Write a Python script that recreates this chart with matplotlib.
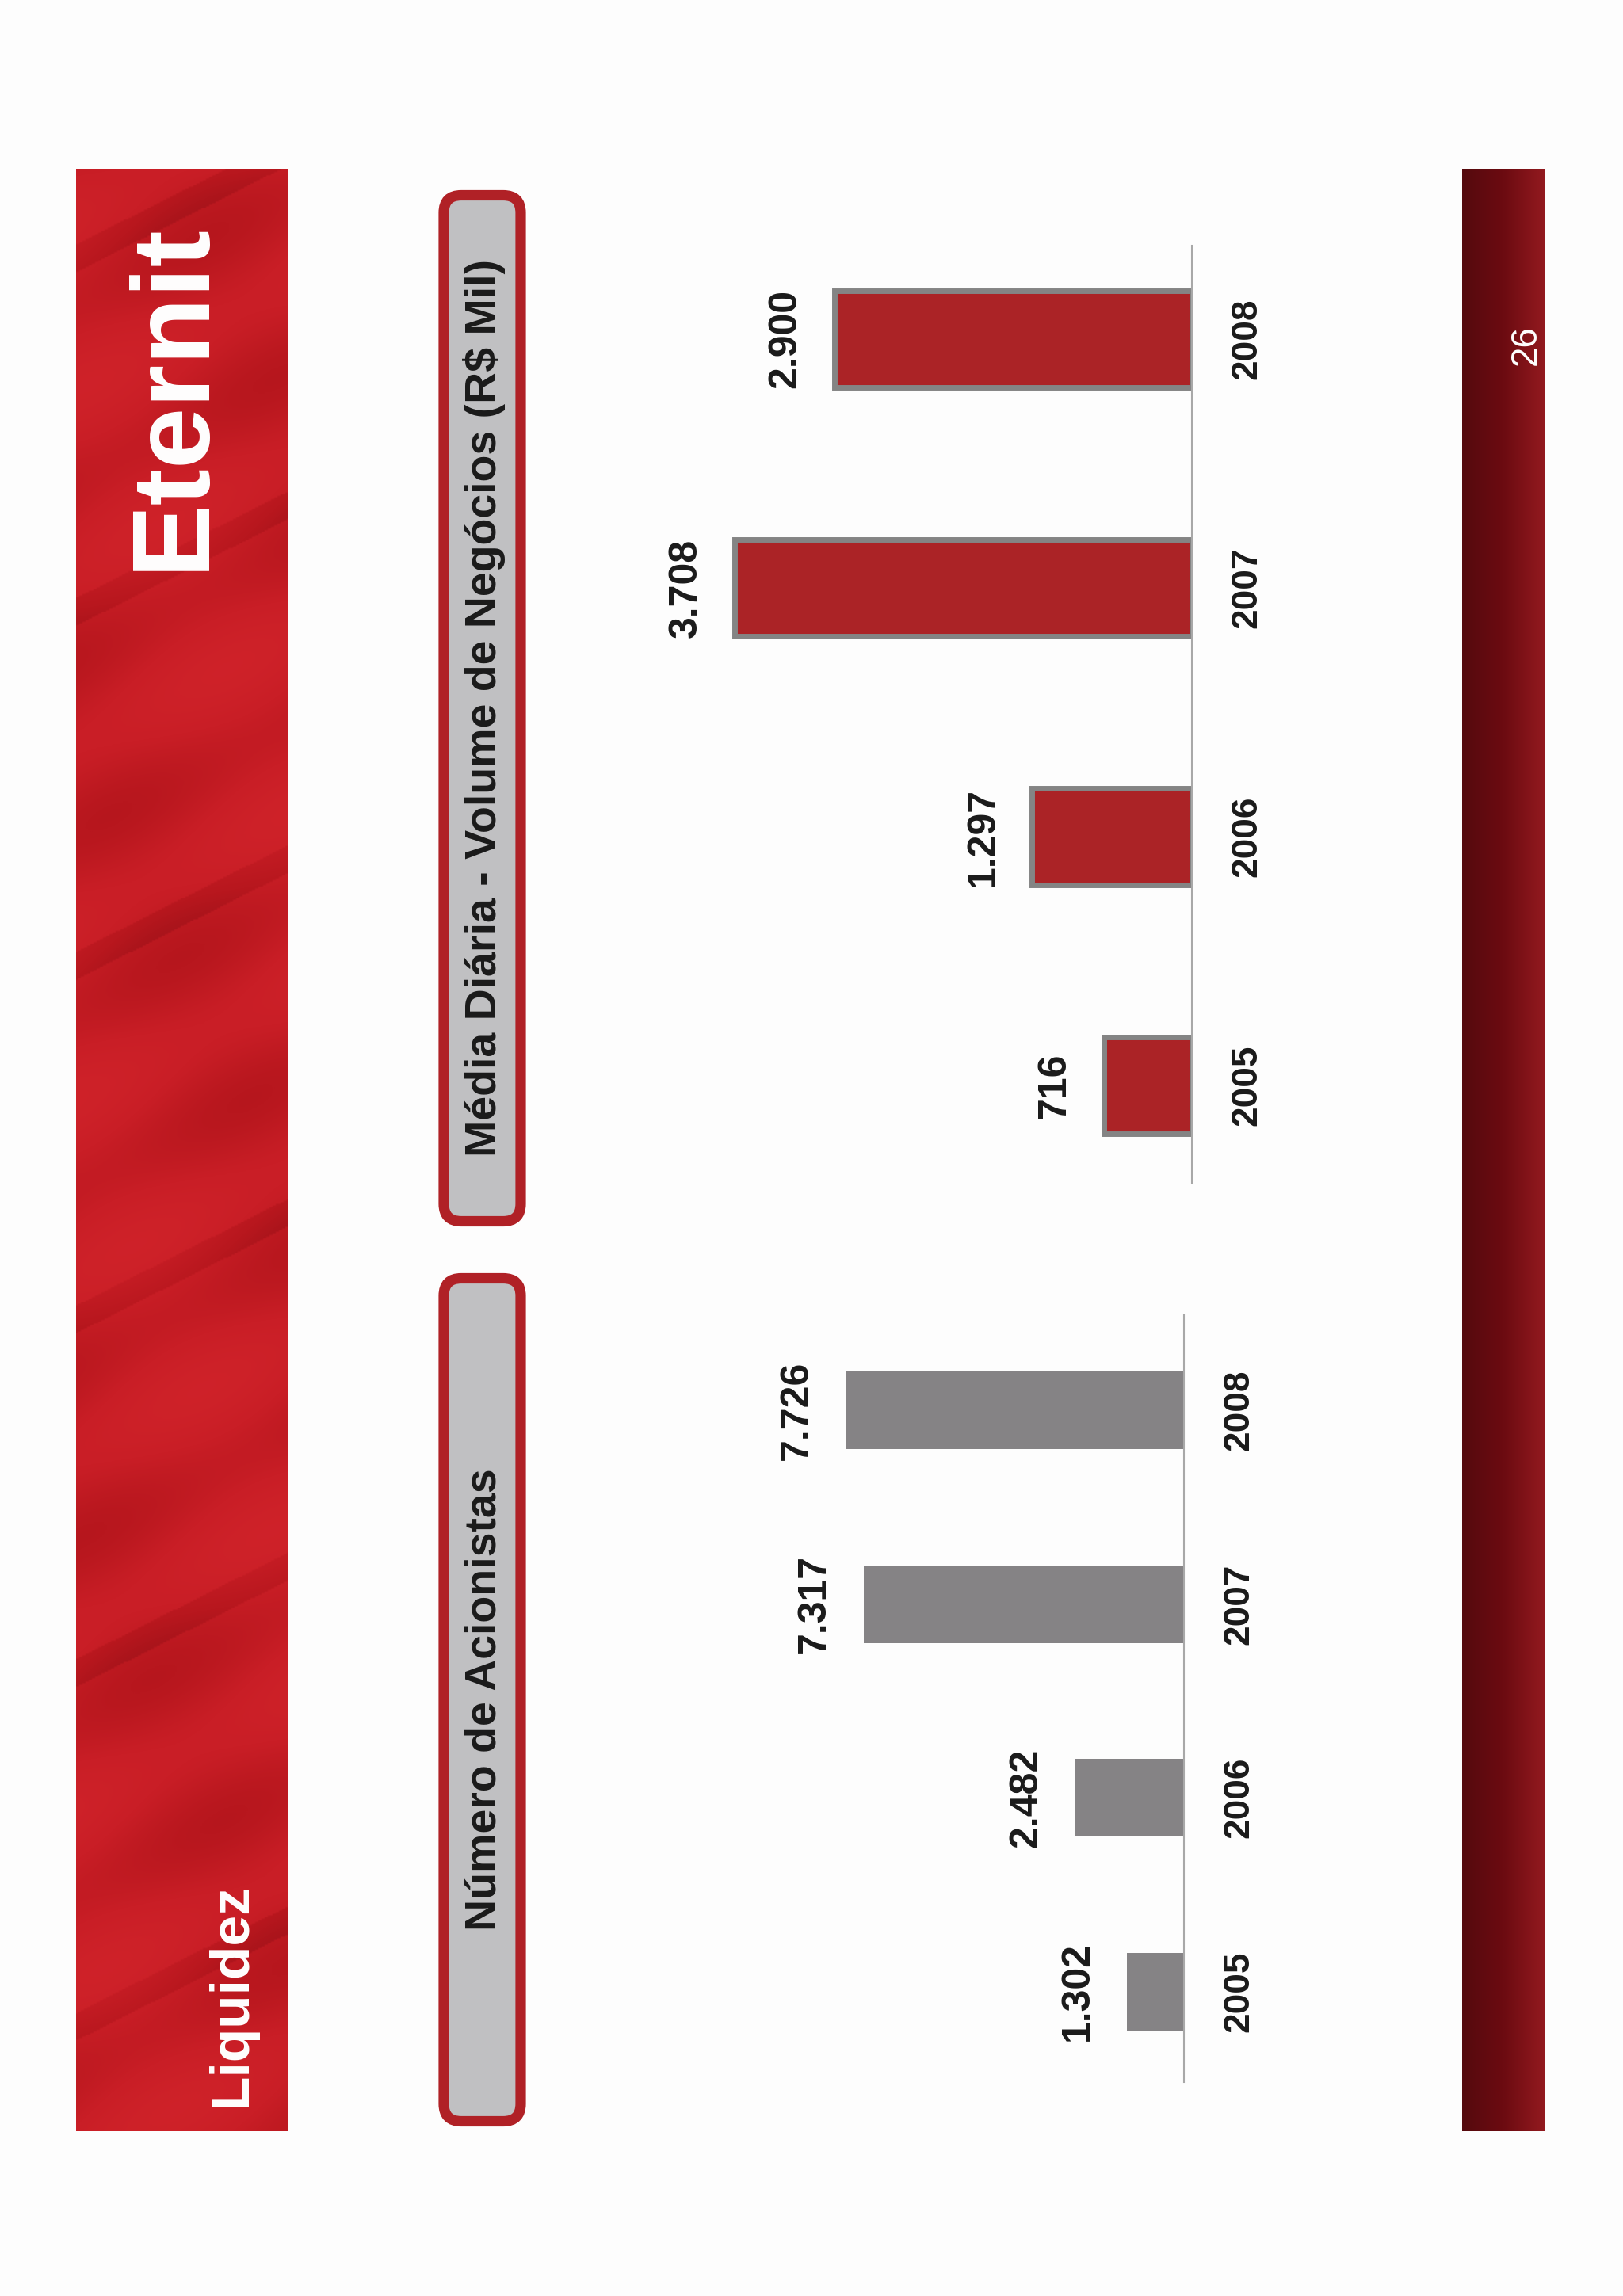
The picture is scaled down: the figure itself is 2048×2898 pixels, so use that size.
import numpy as np
import matplotlib.pyplot as plt
from matplotlib.patches import FancyBboxPatch
from matplotlib.colors import LinearSegmentedColormap

plt.rcParams['font.family'] = ['Liberation Sans', 'DejaVu Sans']

# data
years = ['2005', '2006', '2007', '2008']
acionistas = [1302, 2482, 7317, 7726]
volume = [716, 1297, 3708, 2900]

title_left = 'Número de Acionistas'
title_right = 'Média Diária - Volume de Negócios (R$ Mil)'
page_title = 'Liquidez'
logo = 'Eternit'
page_no = '26'

W, H = 2048, 2898
fig = plt.figure(figsize=(W / 100, H / 100), dpi=100)
fig.patch.set_facecolor('#fdfdfd')


def px_axes(x0, y0, x1, y1):
    """add axes from pixel box (top-left origin)"""
    return fig.add_axes([x0 / W, 1 - y1 / H, (x1 - x0) / W, (y1 - y0) / H])


def fmt(v):
    return f'{v:,}'.replace(',', '.')


# background layer for slide decoration
bg = px_axes(0, 0, W, H)
bg.set_xlim(0, W)
bg.set_ylim(H, 0)
bg.axis('off')

# header band with a soft diagonal roof-tile texture
tile_cmap = LinearSegmentedColormap.from_list('tile', ['#9a1118', '#b8171e', '#c91e26', '#d0232a'])
gx, gy = np.meshgrid(np.linspace(0, 268, 134), np.linspace(0, 2477, 1200))
u = gx * 0.45 + gy * 0.9
v = -gx * 0.9 + gy * 0.45
tex = 0.62 + 0.18 * np.sin(u / 32.0) + 0.12 * np.sin(v / 70.0) - 0.25 * (np.sin(u / 64.0) > 0.97)
bg.imshow(tex, extent=(96, 364, 2690, 213), cmap=tile_cmap, aspect='auto',
          interpolation='bilinear', vmin=0, vmax=1, zorder=1)

bg.text(220, 500, logo, color='white', fontsize=100, fontweight='bold',
        rotation=90, ha='center', va='center', zorder=3)
bg.text(292, 2518, page_title, color='white', fontsize=50, fontweight='bold',
        rotation=90, ha='center', va='center', zorder=3)

# footer band
foot_cmap = LinearSegmentedColormap.from_list('foot', ['#550a0e', '#6c0b11', '#931a1f'])
bg.imshow(np.linspace(0, 1, 200)[None, :], extent=(1845, 1950, 2690, 213),
          cmap=foot_cmap, aspect='auto', zorder=1)
bg.text(1926, 436, page_no, color='white', fontsize=33, rotation=90,
        ha='center', va='center', zorder=3)

# title boxes
for (y0, y1, label) in [(240, 1548, title_right), (1607, 2684, title_left)]:
    box = FancyBboxPatch((560, y0 + 6.5), 97, (y1 - y0) - 13,
                         boxstyle='round,pad=0,rounding_size=22',
                         fc='#c0c0c2', ec='#b02126', lw=9.5, zorder=2)
    bg.add_patch(box)
    bg.text(611, (y0 + y1) / 2, label, fontsize=40, fontweight='bold',
            color='#1a1a1a', rotation=90, ha='center', va='center', zorder=3)


def bar_chart(ax, values, scale, y_lo, y_hi, width_px, height, color, edge, lw):
    pos = np.arange(len(values))
    ax.barh(pos, values, height=height, color=color, edgecolor=edge, linewidth=lw, zorder=2)
    ax.set_xlim(width_px / scale, 0)
    ax.set_ylim(y_lo, y_hi)
    ax.set_facecolor('none')
    for s in ['top', 'left', 'bottom']:
        ax.spines[s].set_visible(False)
    ax.spines['right'].set_color('#a8a8a8')
    ax.spines['right'].set_linewidth(1.5)
    ax.set_xticks([])
    ax.yaxis.tick_right()
    ax.set_yticks(pos, years, rotation=90, va='center', fontsize=33,
                  fontweight='bold', color='#1a1a1a')
    ax.tick_params(axis='y', length=0, pad=34)
    for p, val in zip(pos, values):
        ax.annotate(fmt(val), xy=(val, p), xytext=(-28, 0), textcoords='offset points',
                    rotation=90, ha='right', va='center', fontsize=36,
                    fontweight='bold', color='#1a1a1a')


# right chart (red) : baseline x=1504, 2005 centre y=1370, spacing 314
ax_r = px_axes(850, 310, 1504, 1493)
bar_chart(ax_r, volume, 0.1555, (1370 - 1493) / 314, (1370 - 310) / 314,
          654, 0.39, '#ab2326', '#848484', 5)

# left chart (grey) : baseline x=1494, 2005 centre y=2514, spacing 244.7
ax_l = px_axes(950, 1660, 1494, 2628)
bar_chart(ax_l, acionistas, 0.0552, (2514 - 2628) / 244.7, (2514 - 1660) / 244.7,
          544, 0.40, '#858385', 'none', 0)

fig.savefig('out.png', dpi=100, facecolor=fig.get_facecolor())
